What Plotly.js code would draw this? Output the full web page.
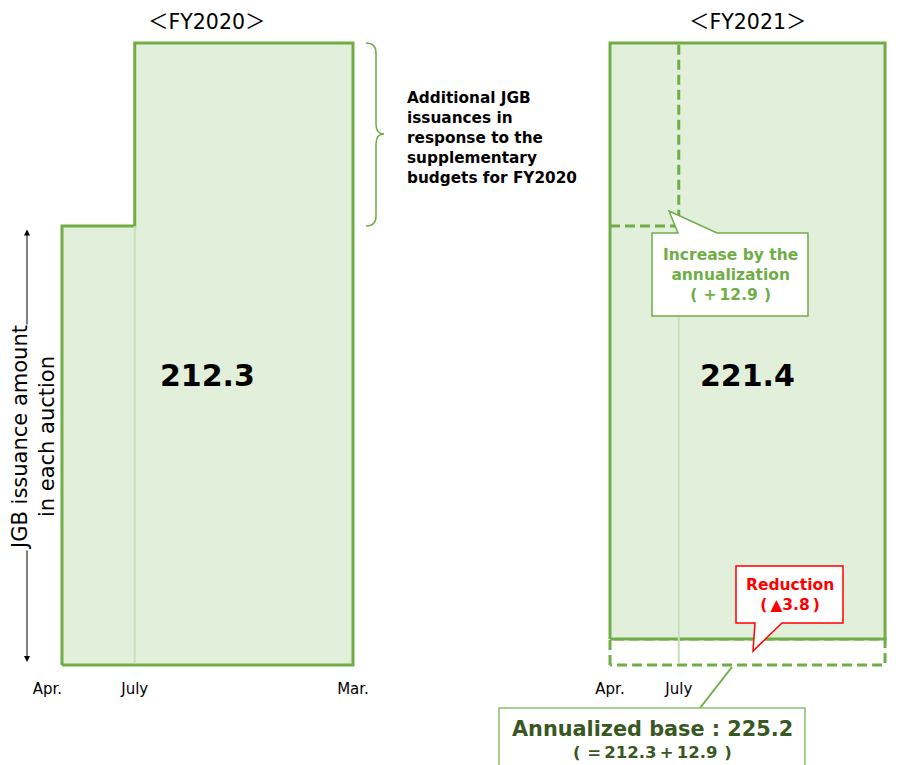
<!DOCTYPE html>
<html>
<head>
<meta charset="utf-8">
<script src="https://cdn.plot.ly/plotly-3.0.1.min.js"></script>
<style>html,body{margin:0;padding:0;background:#fff;}#chart{width:899px;height:765px;}</style>
</head>
<body>
<div id="chart"></div>
<script>
// ---- data (schematic heights of the per-auction JGB issuance amount) ----
const monthLabels = ['Apr.', 'July', 'Mar.'];
const monthIndex = [0, 3, 12];            // months from April (start, supplementary start, end)
const fy2020LevelBefore = 439;            // per-auction amount Apr.-June FY2020 (schematic)
const fy2020LevelAfter = 622;             // per-auction amount July-Mar. FY2020 (schematic)
const fy2021Level = 622;                  // annualized base level (schematic)
const fy2021Reduction = 26;               // reduction strip (schematic)
const totals = [212.3, 221.4];            // trillion yen
const annualizationIncrease = 12.9;
const reductionAmount = 3.8;
const annualizedBase = 225.2;
const fiscalYears = ['FY2020', 'FY2021'];

// ---- layout helpers ----
const W = 899, H = 765;
const GREEN = '#70ad47', FILL = '#e2efda', FAINT = '#c9e1bb';
const FONT = 'DejaVu Sans, Noto Sans CJK JP, sans-serif';
const SP = '\u2009';
const px = x => x / W;
const py = y => 1 - y / H;
function path(pts, close) {
  return pts.map((p, i) => (i ? 'L' : 'M') + px(p[0]).toFixed(5) + ',' + py(p[1]).toFixed(5)).join(' ') + (close ? ' Z' : '');
}

const m0 = monthIndex[0], mJ = monthIndex[1], mE = monthIndex[2];

const traces = [
  // FY2020 step area
  {x: [m0, m0, mJ, mJ, mE, mE, m0], y: [0, fy2020LevelBefore, fy2020LevelBefore, fy2020LevelAfter, fy2020LevelAfter, 0, 0],
   xaxis: 'x', yaxis: 'y', mode: 'lines', fill: 'toself', fillcolor: FILL, line: {color: GREEN, width: 3}},
  {x: [mJ, mJ], y: [1.5, fy2020LevelBefore], xaxis: 'x', yaxis: 'y', mode: 'lines', line: {color: FAINT, width: 2}},
  // FY2021 reduction strip (dashed)
  {x: [m0, m0, mE, mE, m0], y: [0, fy2021Reduction, fy2021Reduction, 0, 0], xaxis: 'x2', yaxis: 'y', mode: 'lines',
   line: {color: GREEN, width: 3, dash: '10px,5px'}},
  // FY2021 area
  {x: [m0, m0, mE, mE, m0], y: [fy2021Reduction, fy2021Level, fy2021Level, fy2021Reduction, fy2021Reduction],
   xaxis: 'x2', yaxis: 'y', mode: 'lines', fill: 'toself', fillcolor: FILL, line: {color: GREEN, width: 3}},
  {x: [mJ, mJ], y: [1.5, fy2020LevelBefore], xaxis: 'x2', yaxis: 'y', mode: 'lines', line: {color: FAINT, width: 2}},
  // FY2021 annualization dashed step
  {x: [m0, mJ, mJ], y: [fy2020LevelBefore, fy2020LevelBefore, fy2021Level], xaxis: 'x2', yaxis: 'y', mode: 'lines',
   line: {color: GREEN, width: 3, dash: '10px,5px'}}
];

function note(x, y, text, size, color, extra) {
  return Object.assign({xref: 'paper', yref: 'paper', x: px(x), y: py(y), xanchor: 'center', yanchor: 'middle',
    text: text, showarrow: false, font: {size: size, color: color, family: FONT}}, extra || {});
}

const annotations = [
  {xref: 'x', yref: 'y', x: 6, y: 643, xanchor: 'center', yanchor: 'middle', text: '＜' + fiscalYears[0] + '＞', showarrow: false, font: {size: 20.5, color: '#000', family: FONT}},
  {xref: 'x2', yref: 'y', x: 6, y: 643, xanchor: 'center', yanchor: 'middle', text: '＜' + fiscalYears[1] + '＞', showarrow: false, font: {size: 20.5, color: '#000', family: FONT}},
  {xref: 'x', yref: 'y', x: 6, y: 290, xanchor: 'center', yanchor: 'middle', text: '<b>' + totals[0].toFixed(1) + '</b>', showarrow: false, font: {size: 30, color: '#000', family: FONT}},
  {xref: 'x2', yref: 'y', x: 6, y: 290, xanchor: 'center', yanchor: 'middle', text: '<b>' + totals[1].toFixed(1) + '</b>', showarrow: false, font: {size: 30, color: '#000', family: FONT}},
  note(405, 138, '<b>Additional JGB<br>issuances in<br>response to the<br>supplementary<br>budgets for FY2020</b>', 15.3, '#000',
    {xanchor: 'left', align: 'left'}),
  // y label arrow
  {xref: 'paper', yref: 'paper', x: px(27), y: py(662), ax: 0, ay: -(662 - 228), text: '',
   showarrow: true, arrowside: 'end+start', arrowhead: 2, arrowsize: 1.2, arrowwidth: 1, arrowcolor: '#000'},
  note(33, 438, 'JGB issuance amount<br>in each auction', 21, '#000', {textangle: -90, bgcolor: '#fff', borderpad: 0}),
  // callouts
  note(730, 275, '<b>Increase by the<br>annualization<br>(' + SP + SP + '+' + SP + annualizationIncrease.toFixed(1) + SP + SP + ')</b>', 15.5, GREEN),
  note(790, 595, '<b>Reduction<br>(' + SP + '▲' + reductionAmount.toFixed(1) + SP + ')</b>', 15.5, '#ff0000'),
  note(652, 729, '<b>Annualized base : ' + annualizedBase.toFixed(1) + '</b>', 20.8, '#385723'),
  note(652, 752, '<b>(' + SP + SP + '=' + SP + totals[0].toFixed(1) + SP + '+' + SP + annualizationIncrease.toFixed(1) + SP + SP + ')</b>', 16.5, '#385723')
];

const brace = 'M' + px(366) + ',' + py(43) + ' Q' + px(376) + ',' + py(43) + ' ' + px(376) + ',' + py(53) +
  ' L' + px(376) + ',' + py(124) + ' Q' + px(376) + ',' + py(134) + ' ' + px(384) + ',' + py(134) +
  ' Q' + px(376) + ',' + py(134) + ' ' + px(376) + ',' + py(144) + ' L' + px(376) + ',' + py(216) +
  ' Q' + px(376) + ',' + py(226) + ' ' + px(366) + ',' + py(226);

const shapes = [
  {type: 'path', xref: 'paper', yref: 'paper', path: brace, line: {color: GREEN, width: 1.5}},
  {type: 'path', xref: 'paper', yref: 'paper', fillcolor: '#fff', line: {color: GREEN, width: 1.5},
   path: path([[652, 233], [678, 233], [669, 211], [717, 233], [808, 233], [808, 316], [652, 316]], true)},
  {type: 'path', xref: 'paper', yref: 'paper', fillcolor: '#fff', line: {color: '#ff0000', width: 1.5},
   path: path([[736, 566], [843, 566], [843, 623], [782, 623], [753, 651], [755, 623], [736, 623]], true)},
  {type: 'path', xref: 'paper', yref: 'paper', line: {color: GREEN, width: 2}, path: path([[700, 708], [732, 667]], false)},
  {type: 'path', xref: 'paper', yref: 'paper', fillcolor: '#fff', line: {color: '#8cc06a', width: 1.5},
   path: path([[499, 708], [805, 708], [805, 790], [499, 790]], true)}
];

const axCommon = {showgrid: false, zeroline: false, showline: false, ticks: '', anchor: 'free', position: 100 / H,
  ticklabelstandoff: 13, tickfont: {size: 15, color: '#000', family: FONT}, fixedrange: true};

const layout = {
  width: W, height: H, margin: {l: 0, r: 0, t: 0, b: 0},
  paper_bgcolor: '#fff', plot_bgcolor: 'rgba(0,0,0,0)', showlegend: false, hovermode: false,
  xaxis: Object.assign({}, axCommon, {domain: [1.375 / W, 450 / W], range: [-2.5, 16],
    tickvals: [-0.6, monthIndex[1], monthIndex[2]], ticktext: monthLabels}),
  xaxis2: Object.assign({}, axCommon, {domain: [518.33 / W, 896.5 / W], range: [-4, 12.5],
    tickvals: monthIndex, ticktext: monthLabels}),
  yaxis: {domain: [0, 1], range: [-100, 665], visible: false, fixedrange: true},
  annotations: annotations, shapes: shapes
};

Plotly.newPlot('chart', traces, layout, {displayModeBar: false, staticPlot: true});
</script>
</body>
</html>
